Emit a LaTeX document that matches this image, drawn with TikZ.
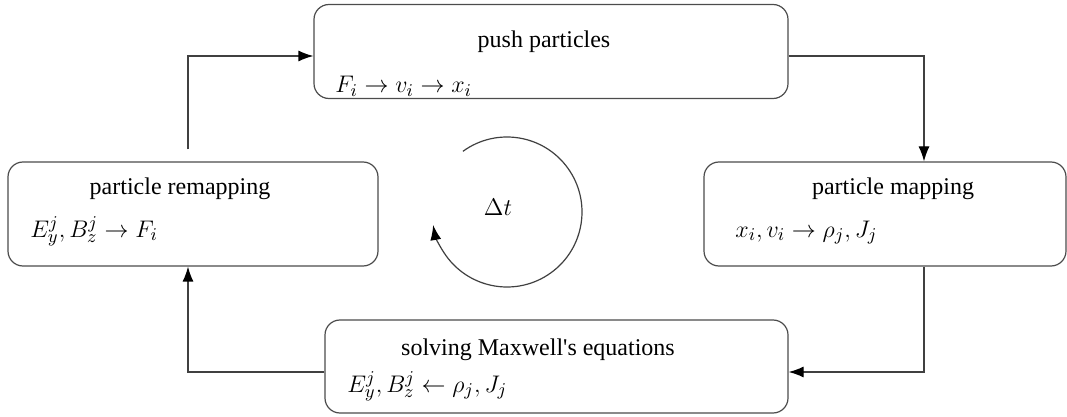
\documentclass[tikz,border=0pt]{standalone}
\usepackage{fontspec}
\setmainfont{Liberation Serif}[Ligatures=NoCommon]
\newfontfamily\tms{Liberation Serif}
\usetikzlibrary{arrows.meta}
\begin{document}
\begin{tikzpicture}[x=0.5pt,y=-0.5pt,
  stagebox/.style={draw=black!70,line width=0.6pt,rounded corners=7.5pt,inner sep=0pt},
  title/.style={anchor=base,inner sep=0pt,font=\tms\fontsize{12}{14}\selectfont},
  formula/.style={anchor=base west,inner sep=0pt,font=\fontsize{13}{15}\selectfont},
  conn/.style={draw=black!75,line width=0.6pt,-{Latex[length=7.5pt,width=5.5pt,color=black]}}]
\useasboundingbox (0,0) rectangle (1067,417);
% boxes
\node[stagebox,minimum width=237pt,minimum height=47pt] (top) at (551,51.5) {};
\node[stagebox,minimum width=181pt,minimum height=52pt] (right) at (885,214) {};
\node[stagebox,minimum width=185pt,minimum height=52pt] (left) at (193,214) {};
\node[stagebox,minimum width=231.5pt,minimum height=46.5pt] (bottom) at (556.5,366.5) {};
% texts
\node[title] (t1) at (544,48) {push particles};
\node[formula] (f1) at (335,93) {$F_i \rightarrow v_i \rightarrow x_i$};
\node[title] (t2) at (893,195) {particle mapping};
\node[formula] (f2) at (735,237) {$x_i, v_i \rightarrow \rho_j, J_j$};
\node[title] (t3) at (180,195) {particle remapping};
\node[formula] (f3) at (30,237) {$E_y^j, B_z^j \rightarrow F_i$};
\node[title] (t4) at (538,355) {solving Maxwell\char"0027 s equations};
\node[formula] (f4) at (347,392) {$E_y^j, B_z^j \leftarrow \rho_j, J_j$};
% cycle symbol
\coordinate (cc) at (507,212);
\node[inner sep=0pt,font=\fontsize{13}{15}\selectfont] (dt) at (498,207) {$\Delta t$};
\draw[conn] ([shift={(126:37.5pt)}]cc) arc[start angle=126,end angle=-170,radius=37.5pt];
% connectors
\draw[conn] ([yshift=-2.25pt]top.east) -| ([xshift=19.5pt]right.north);
\draw[conn] ([xshift=19.5pt]right.south) |- ([yshift=-2.75pt]bottom.east);
\draw[conn] ([yshift=-2.75pt]bottom.west) -| ([xshift=-2.5pt]left.south);
\draw[conn] ([xshift=-2.5pt,yshift=6pt]left.north) |- ([yshift=-2.25pt]top.west);
\end{tikzpicture}
\end{document}
